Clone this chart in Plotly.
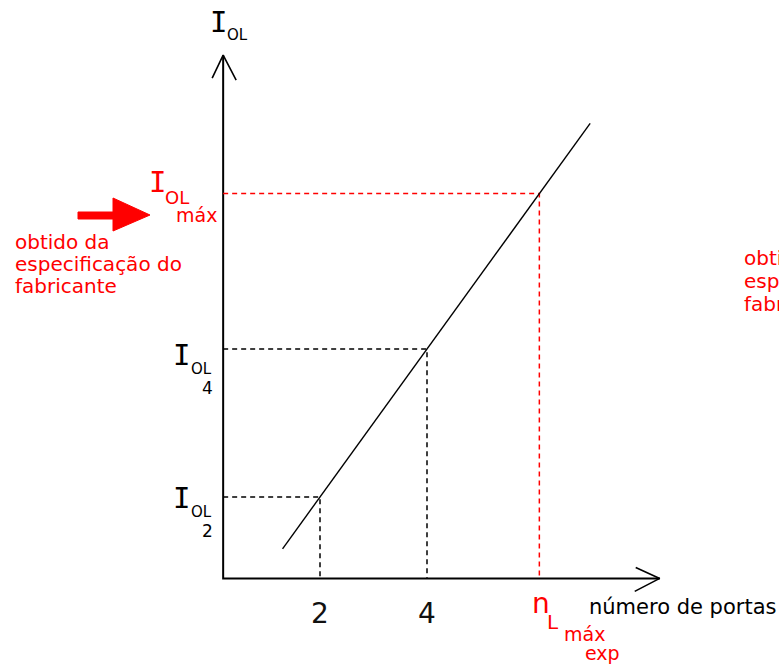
import plotly.graph_objects as go

# ---------------- data (arbitrary units) ----------------
ports = [2, 4]                 # número de portas measured
i_ol = [2, 4]                  # I_OL measured at those port counts
n_max = 6.1                    # n_L máx exp
i_ol_max = 6.1                 # I_OL máx (manufacturer spec)
line_n = [1.3, 7.05]           # extent of experimental straight line
line_i = [1.3, 7.05]
origin_x, origin_y = 0.19, 0.9
x_axis_end, y_axis_end = 8.35, 7.97
tick_labels = ["2", "4"]
sub_labels = ["4", "2"]
note_lines = ["obtido da", "especificação do", "fabricante"]

# ---------------- scale helpers ----------------
W, H = 779, 665
KX, KY = 53.5, 74.0                  # pixels per data unit
XMIN = 2 - (320 / KX)
XMAX = XMIN + W / KX
YMAX = 2 + 497 / KY
YMIN = YMAX - H / KY


def px_x(p):
    return XMIN + p / KX


def px_y(p):
    return YMAX - p / KY


RED = "#ff0000"
BLACK = "#000000"
fig = go.Figure()

# axes
fig.add_trace(go.Scatter(x=[origin_x, origin_x, x_axis_end], y=[y_axis_end, origin_y, origin_y],
                         mode="lines", line=dict(color=BLACK, width=2), hoverinfo="skip"))
# arrowheads (open)
fig.add_trace(go.Scatter(
    x=[origin_x - 11 / KX, origin_x, origin_x + 13 / KX],
    y=[y_axis_end - 23 / KY, y_axis_end, y_axis_end - 25 / KY],
    mode="lines", line=dict(color=BLACK, width=1.6), hoverinfo="skip"))
fig.add_trace(go.Scatter(
    x=[x_axis_end - 24 / KX, x_axis_end, x_axis_end - 25 / KX],
    y=[origin_y + 11 / KY, origin_y, origin_y - 13 / KY],
    mode="lines", line=dict(color=BLACK, width=1.6), hoverinfo="skip"))

# black dashed guides
for p, i in zip(ports, i_ol):
    fig.add_trace(go.Scatter(x=[origin_x, p, p], y=[i, i, origin_y], mode="lines",
                             line=dict(color=BLACK, width=1.5, dash="5px,4px"), hoverinfo="skip"))
# red dashed guides
fig.add_trace(go.Scatter(x=[origin_x, n_max, n_max], y=[i_ol_max, i_ol_max, origin_y], mode="lines",
                         line=dict(color=RED, width=1.5, dash="5px,4px"), hoverinfo="skip"))

# main line
fig.add_trace(go.Scatter(x=line_n, y=line_i, mode="lines",
                         line=dict(color=BLACK, width=1.4), hoverinfo="skip"))

# big red arrow
ax_pts = [(78, 212), (113, 212), (113, 198), (150, 215), (113, 231), (113, 219), (78, 219), (78, 212)]
fig.add_trace(go.Scatter(x=[px_x(a) for a, b in ax_pts], y=[px_y(b) for a, b in ax_pts],
                         mode="lines", fill="toself", fillcolor=RED,
                         line=dict(color=RED, width=1), hoverinfo="skip"))

ann = []


def txt(t, xp, yp, size, color=BLACK, family="DejaVu Sans", xanchor="center"):
    ann.append(dict(text=t, x=px_x(xp), y=px_y(yp), xref="x", yref="y",
                    xanchor=xanchor, yanchor="middle", showarrow=False, borderpad=0,
                    font=dict(family=family, size=size, color=color)))


MONO = "DejaVu Sans Mono"
# top axis label
txt("I", 218, 22, 29, BLACK, MONO)
txt("OL", 237, 35, 15)
# I_OL máx
txt("I", 157, 182, 29, RED, MONO)
txt("OL", 177, 197, 18, RED)
txt("máx", 196, 215, 19, RED)
# I_OL4 / I_OL2
for lbl, ycen in zip(sub_labels, [355, 498]):
    txt("I", 181, ycen, 29, BLACK, MONO)
    txt("OL", 201, ycen + 14, 15)
    txt(lbl, 207, ycen + 33, 17)
# x tick labels
for p, lbl in zip(ports, tick_labels):
    ann.append(dict(text=lbl, x=p, y=origin_y, xref="x", yref="y", xanchor="center",
                    yanchor="middle", yshift=-35, showarrow=False,
                    font=dict(family="DejaVu Sans", size=28, color="#111")))
# n_L máx exp
txt("n", 541, 603, 28, RED)
txt("L", 553, 622, 20, RED)
txt("máx", 584, 634, 19, RED)
txt("exp", 602, 653, 19, RED)
# axis name
txt("número de portas", 588, 607, 21, BLACK, xanchor="left")
# manufacturer notes (left and clipped copy at right edge)
for k, line in enumerate(note_lines):
    txt(line, 14, 242 + 22 * k, 20, RED, xanchor="left")
    txt(line, 743, 258 + 23 * k, 20, RED, xanchor="left")

fig.update_layout(
    width=W, height=H, margin=dict(l=0, r=0, t=0, b=0),
    paper_bgcolor="white", plot_bgcolor="white", showlegend=False,
    xaxis=dict(range=[XMIN, XMAX], visible=False, fixedrange=True),
    yaxis=dict(range=[YMIN, YMAX], visible=False, fixedrange=True),
    annotations=ann,
)
fig.write_html("out.html", config={"displayModeBar": False},
               post_script="document.body.style.margin='0';")
